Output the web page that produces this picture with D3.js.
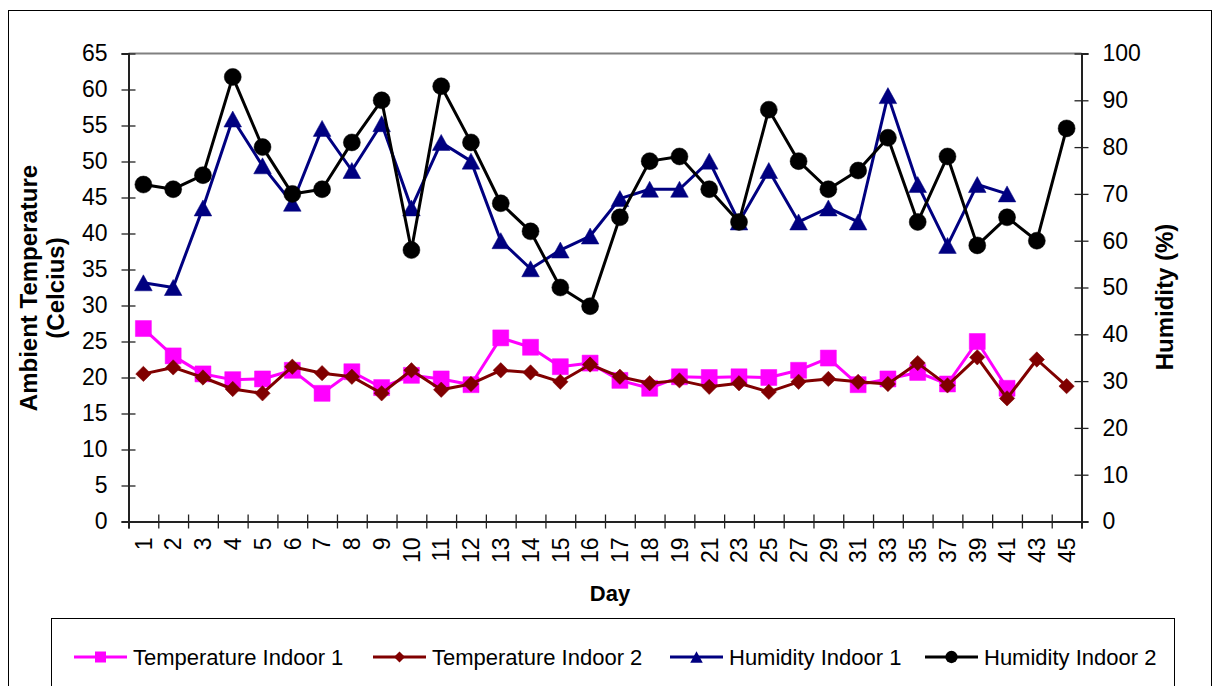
<!DOCTYPE html>
<html>
<head>
<meta charset="utf-8">
<script src="https://cdn.jsdelivr.net/npm/d3@7"></script>
<style>
  html, body { margin: 0; padding: 0; background: #fff; }
  svg { display: block; font-family: "Liberation Sans", Arial, Helvetica, sans-serif; }
</style>
</head>
<body>
<svg id="chart" width="1218" height="686"></svg>
<script>
// Day labels on the category axis
const days = ["1","2","3","4","5","6","7","8","9","10","11","12","13","14","15","16","17","18","19",
              "21","23","25","27","29","31","33","35","37","39","41","43","45"];

// Ambient temperature (Celcius), left axis
const tempIndoor1 = [26.8, 23.0, 20.5, 19.7, 19.8, 21.0, 17.8, 20.8, 18.6, 20.3, 19.8, 19.0, 25.5, 24.2, 21.5, 22.0,
                     19.6, 18.5, 20.1, 20.0, 20.1, 20.0, 21.0, 22.7, 19.0, 19.8, 20.7, 19.1, 25.0, 18.5, null, null];
const tempIndoor2 = [20.5, 21.4, 20.0, 18.4, 17.8, 21.5, 20.6, 20.1, 17.8, 21.0, 18.3, 19.1, 21.0, 20.7, 19.4, 21.8,
                     20.1, 19.2, 19.6, 18.7, 19.2, 18.0, 19.4, 19.8, 19.4, 19.1, 22.0, 18.9, 22.8, 17.1, 22.5, 18.8];

// Relative humidity (%), right axis
const humIndoor1 = [51, 50, 67, 86, 76, 68, 84, 75, 85, 67, 81, 77, 60, 54, 58, 61,
                    69, 71, 71, 77, 64, 75, 64, 67, 64, 91, 72, 59, 72, 70, null, null];
const humIndoor2 = [72, 71, 74, 95, 80, 70, 71, 81, 90, 58, 93, 81, 68, 62, 50, 46,
                    65, 77, 78, 71, 64, 88, 77, 71, 75, 82, 64, 78, 59, 65, 60, 84];

// Axis ticks
const leftTicks = d3.range(0, 66, 5);
const rightTicks = d3.range(0, 101, 10);

const svg = d3.select("#chart");
const L = 128.5, R = 1081.5, T = 53.5, B = 521.5;

const x = d3.scaleBand().domain(days).range([L, R]).padding(0);
const xEdges = d3.scaleLinear().domain([0, days.length]).range([L, R]);
const yL = d3.scaleLinear().domain([0, 65]).range([B, T]);
const yR = d3.scaleLinear().domain([0, 100]).range([B, T]);
const cx = d => x(d) + x.bandwidth() / 2;

// Outer chart frame
svg.append("rect").attr("x", 8.5).attr("y", 10.5).attr("width", 1203).attr("height", 720)
  .attr("fill", "none").attr("stroke", "#000").attr("stroke-width", 1);

// Plot area border (top edge visible in gray)
svg.append("line").attr("x1", L).attr("x2", R).attr("y1", T).attr("y2", T)
  .attr("stroke", "#808080").attr("stroke-width", 2);

// Custom centred triangle marker
const triangle = {
  draw(ctx, size) {
    const s = Math.sqrt(size);
    ctx.moveTo(0, -s * 0.5);
    ctx.lineTo(s * 0.55, s * 0.5);
    ctx.lineTo(-s * 0.55, s * 0.5);
    ctx.closePath();
  }
};

const series = [
  { name: "Temperature Indoor 1", values: tempIndoor1, y: yL, color: "#FF00FF", type: d3.symbolSquare, size: 256, legendSize: 121, rot: 0 },
  { name: "Temperature Indoor 2", values: tempIndoor2, y: yL, color: "#800000", type: d3.symbolSquare, size: 118, legendSize: 60, rot: 45 },
  { name: "Humidity Indoor 1",    values: humIndoor1,  y: yR, color: "#000080", type: triangle,        size: 256, legendSize: 130, rot: 0 },
  { name: "Humidity Indoor 2",    values: humIndoor2,  y: yR, color: "#000000", type: d3.symbolCircle, size: 227, legendSize: 120, rot: 0 }
];

// Axes
const tickFont = 23;
const axisColor = "#222";

const gLeft = svg.append("g").attr("transform", `translate(${L},0)`)
  .call(d3.axisLeft(yL).tickValues(leftTicks).tickSize(7).tickPadding(14));
gLeft.selectAll(".tick line").attr("x1", 7);
const gRight = svg.append("g").attr("transform", `translate(${R},0)`)
  .call(d3.axisRight(yR).tickValues(rightTicks).tickSize(7).tickPadding(14));
gRight.selectAll(".tick line").attr("x1", -7);

const gEdges = svg.append("g").attr("transform", `translate(0,${B})`)
  .call(d3.axisBottom(xEdges).tickValues(d3.range(0, days.length + 1)).tickSize(7).tickFormat(""));
gEdges.selectAll(".tick line").attr("y1", -7);

const gX = svg.append("g").attr("transform", `translate(0,${B})`)
  .call(d3.axisBottom(x).tickSize(0).tickPadding(0));
gX.select(".domain").remove();
gX.selectAll(".tick text")
  .attr("transform", "translate(0,16) rotate(-90)")
  .attr("text-anchor", "end")
  .attr("x", 0).attr("y", 0).attr("dy", "0.36em");

[gLeft, gRight, gEdges].forEach(g => {
  g.select(".domain").attr("stroke", axisColor).attr("stroke-width", 2);
  g.selectAll(".tick line").attr("stroke", axisColor).attr("stroke-width", 1.3);
});
[gLeft, gRight, gX].forEach(g => {
  g.selectAll(".tick text").attr("font-size", tickFont).attr("fill", "#000")
    .style("font-family", '"Liberation Sans", Arial, sans-serif');
});

// Series lines and markers
series.forEach(s => {
  const pts = days.map((d, i) => ({ d, v: s.values[i] })).filter(p => p.v != null);
  const line = d3.line().x(p => cx(p.d)).y(p => s.y(p.v));
  svg.append("path").datum(pts).attr("d", line)
    .attr("fill", "none").attr("stroke", s.color).attr("stroke-width", 3).attr("stroke-linejoin", "round");
  svg.append("g").selectAll("path").data(pts).join("path")
    .attr("d", d3.symbol().type(s.type).size(s.size))
    .attr("transform", p => `translate(${cx(p.d)},${s.y(p.v)}) rotate(${s.rot})`)
    .attr("fill", s.color).attr("stroke", s.color).attr("stroke-width", 0.5);
});

// Axis titles
svg.append("text").attr("x", 610).attr("y", 601).attr("text-anchor", "middle")
  .attr("font-size", 22).attr("font-weight", "bold").text("Day");

const yTitle = svg.append("text").attr("transform", "translate(0,288) rotate(-90)")
  .attr("text-anchor", "middle").attr("font-size", 24).attr("font-weight", "bold");
yTitle.append("tspan").attr("x", 0).attr("y", 37).text("Ambient Temperature");
yTitle.append("tspan").attr("x", 0).attr("y", 64).text("(Celcius)");

svg.append("text").attr("transform", "translate(1173,297) rotate(-90)")
  .attr("text-anchor", "middle").attr("font-size", 24).attr("font-weight", "bold").text("Humidity (%)");

// Legend
svg.append("rect").attr("x", 51.5).attr("y", 618.5).attr("width", 1123).attr("height", 120)
  .attr("fill", "#fff").attr("stroke", "#000").attr("stroke-width", 1);

const legendX = [74, 373, 670, 925];
const legendY = 657;
series.forEach((s, i) => {
  const g = svg.append("g").attr("transform", `translate(${legendX[i]},${legendY})`);
  g.append("line").attr("x1", 0).attr("x2", 53).attr("y1", 0).attr("y2", 0)
    .attr("stroke", s.color).attr("stroke-width", 3);
  g.append("path").attr("d", d3.symbol().type(s.type).size(s.legendSize))
    .attr("transform", `translate(26.5,0) rotate(${s.rot})`).attr("fill", s.color);
  g.append("text").attr("x", 59).attr("y", 8).attr("font-size", 22).attr("fill", "#000").text(s.name);
});
</script>
</body>
</html>
